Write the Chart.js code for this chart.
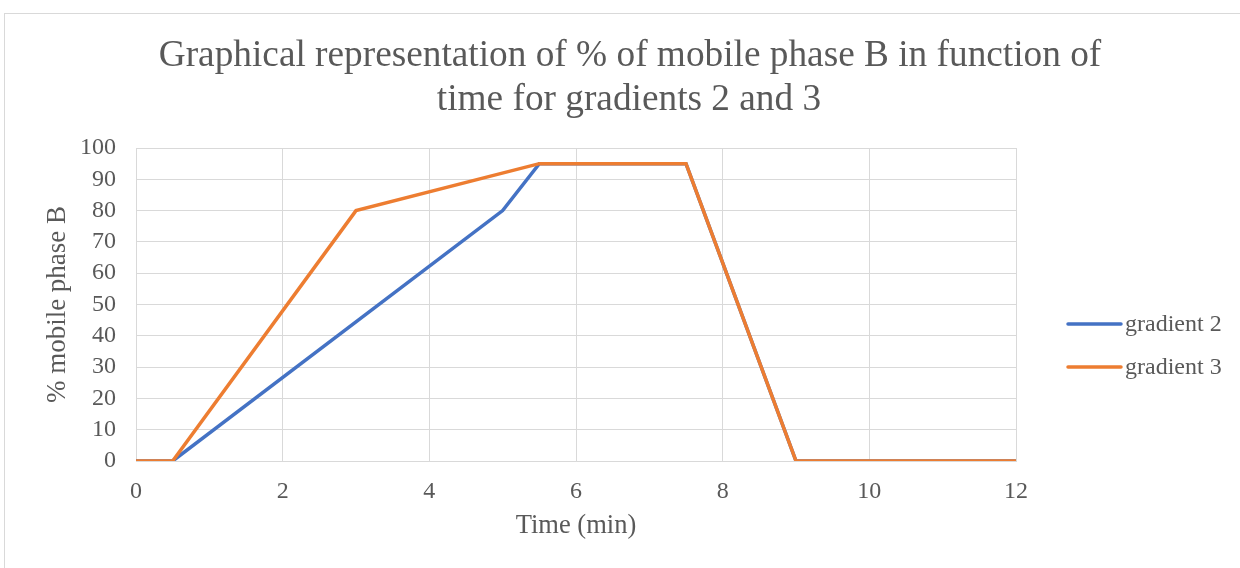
<!DOCTYPE html>
<html>
<head>
<meta charset="utf-8">
<script src="https://cdn.jsdelivr.net/npm/chart.js@4.4.1/dist/chart.umd.min.js"></script>
<style>
  html, body { margin: 0; padding: 0; background: #fff; }
  #wrap { width: 1240px; height: 568px; position: relative; }
</style>
</head>
<body>
<div id="wrap"><canvas id="chart" width="1240" height="568"></canvas></div>
<script>
// Gradient programmes: time (min) and % mobile phase B
const timeG2 = [0, 0.5, 5, 5.5, 7.5, 9, 12];
const percentG2 = [0, 0, 80, 95, 95, 0, 0];
const timeG3 = [0, 0.5, 3, 5.5, 7.5, 9, 12];
const percentG3 = [0, 0, 80, 95, 95, 0, 0];
const seriesNames = ['gradient 2', 'gradient 3'];
const seriesColors = ['#4472C4', '#ED7D31'];
const titleLines = ['Graphical representation of % of mobile phase B in function of', 'time for gradients 2 and 3'];
const xTitle = 'Time (min)';
const yTitle = '% mobile phase B';

const FONT = "'Liberation Serif', 'Times New Roman', serif";
const TEXT = '#595959';
const GRID = '#d9d9d9';

const toPoints = (xs, ys) => xs.map((x, i) => ({ x: x, y: ys[i] }));

// outer frame of the chart object
const framePlugin = {
  id: 'frame',
  beforeDraw(chart) {
    const ctx = chart.ctx;
    ctx.save();
    ctx.fillStyle = '#fff';
    ctx.fillRect(0, 0, chart.width, chart.height);
    ctx.strokeStyle = GRID;
    ctx.lineWidth = 1;
    ctx.strokeRect(4.5, 13.5, chart.width + 10, chart.height + 10);
    ctx.restore();
  }
};

// legend to the right of the plot area
const sideLegend = {
  id: 'sideLegend',
  afterDraw(chart) {
    const ctx = chart.ctx;
    const rows = [324, 367];
    ctx.save();
    chart.data.datasets.forEach((ds, i) => {
      const y = rows[i];
      ctx.strokeStyle = ds.borderColor;
      ctx.lineWidth = 3.5;
      ctx.lineCap = 'round';
      ctx.beginPath();
      ctx.moveTo(1068, y);
      ctx.lineTo(1121, y);
      ctx.stroke();
      ctx.fillStyle = TEXT;
      ctx.font = '24px ' + FONT;
      ctx.textBaseline = 'middle';
      ctx.textAlign = 'left';
      ctx.fillText(ds.label, 1125, y + 1);
    });
    ctx.restore();
  }
};

// two-line chart title
const titlePlugin = {
  id: 'twoLineTitle',
  afterDraw(chart) {
    const ctx = chart.ctx;
    ctx.save();
    ctx.fillStyle = TEXT;
    ctx.font = '37.3px ' + FONT;
    ctx.textAlign = 'center';
    ctx.textBaseline = 'middle';
    ctx.fillText(titleLines[0], 630, 56);
    ctx.fillText(titleLines[1], 629, 100);
    ctx.restore();
  }
};

new Chart(document.getElementById('chart'), {
  type: 'line',
  data: {
    datasets: [
      {
        label: seriesNames[0],
        data: toPoints(timeG2, percentG2),
        borderColor: seriesColors[0],
        backgroundColor: seriesColors[0],
        borderWidth: 3.5,
        pointRadius: 0,
        tension: 0,
        order: 1
      },
      {
        label: seriesNames[1],
        data: toPoints(timeG3, percentG3),
        borderColor: seriesColors[1],
        backgroundColor: seriesColors[1],
        borderWidth: 3.5,
        pointRadius: 0,
        tension: 0,
        order: 0
      }
    ]
  },
  options: {
    responsive: false,
    animation: false,
    devicePixelRatio: 1,
    layout: { padding: { top: 148, right: 224, bottom: 0, left: 0 } },
    plugins: {
      legend: { display: false },
      title: { display: false },
      tooltip: { enabled: false }
    },
    scales: {
      x: {
        type: 'linear',
        min: 0,
        max: 12,
        ticks: {
          stepSize: 2,
          autoSkip: false,
          maxRotation: 0,
          color: TEXT,
          font: { family: FONT, size: 24 },
          padding: 16
        },
        grid: { color: GRID, lineWidth: 1, drawTicks: false },
        border: { color: GRID, width: 1 },
        title: {
          display: true,
          text: xTitle,
          color: TEXT,
          font: { family: FONT, size: 26.5 },
          padding: { top: 0, bottom: 26 }
        },
        afterFit(scale) { scale.height = 107; }
      },
      y: {
        min: 0,
        max: 100,
        ticks: {
          stepSize: 10,
          autoSkip: false,
          color: TEXT,
          font: { family: FONT, size: 24, lineHeight: 1 },
          padding: 20
        },
        grid: { color: GRID, lineWidth: 1, drawTicks: false },
        border: { color: GRID, width: 1 },
        title: {
          display: true,
          text: yTitle,
          color: TEXT,
          font: { family: FONT, size: 27 },
          padding: { top: 42, bottom: 0 }
        },
        afterFit(scale) { scale.width = 136; }
      }
    }
  },
  plugins: [framePlugin, titlePlugin, sideLegend]
});
</script>
</body>
</html>
